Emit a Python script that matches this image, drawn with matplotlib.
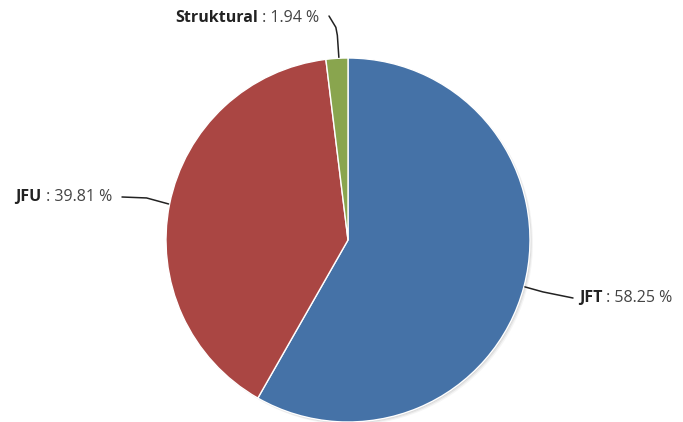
import numpy as np
import matplotlib.pyplot as plt
from matplotlib.patches import Circle

labels = ['JFT', 'JFU', 'Struktural']
values = [58.25, 39.81, 1.94]
colors = ['#4572A7', '#AA4643', '#89A54E']

W, H = 683, 422
cx, cy, R = 348, 182, 182

fig = plt.figure(figsize=(W / 100, H / 100), dpi=100)
ax = fig.add_axes([0, 0, 1, 1])

# light shadow under the pie
for off, a in [(3, 0.04), (2, 0.06), (1, 0.08)]:
    ax.add_patch(Circle((cx + off, cy - off), R, color='black', alpha=a, lw=0, zorder=0))

wedges, _ = ax.pie(values, colors=colors, startangle=90, counterclock=False,
                   center=(cx, cy), radius=R, frame=True,
                   wedgeprops=dict(edgecolor='white', linewidth=1))

ax.set_xlim(0, W)
ax.set_ylim(0, H)
ax.set_aspect('equal')
ax.axis('off')

# label anchor points (text end / start) for each slice
anchors = {'JFT': (579, 124), 'JFU': (112, 225), 'Struktural': (319, 404)}

total = sum(values)
start = 90.0
font = 'Open Sans'
fs = 11.5
for lab, v in zip(labels, values):
    span = v / total * 360
    mid = np.deg2rad(start - span / 2)
    start -= span
    ex, ey = cx + (R + 1) * np.cos(mid), cy + (R + 1) * np.sin(mid)
    tx, ty = anchors[lab]
    right = np.cos(mid) > 0.2
    if lab == 'Struktural':
        pts = [(ex + 2, ey), (ex + 0.5, ey + 22), (ex - 1, ey + 30), (tx + 10, ty + 2)]
    elif right:
        pts = [(ex, ey), (ex + 18, ey - 5), (tx - 6, ty)]
    else:
        pts = [(ex, ey), (ex - 22, ey + 6), (tx + 10, ty)]
    xs, ys = zip(*pts)
    ax.plot(xs, ys, color='#222222', lw=1.1, solid_capstyle='round')
    value_txt = ' : %.2f %%' % v
    if right:
        t1 = ax.text(tx, ty, lab, fontsize=fs, fontweight='bold', family=font,
                     color='#222222', ha='left', va='center')
        ax.annotate(value_txt, xy=(1, 0.5), xycoords=t1, fontsize=fs, family=font,
                    color='#444444', ha='left', va='center')
    else:
        t2 = ax.text(tx, ty, value_txt, fontsize=fs, family=font,
                     color='#444444', ha='right', va='center')
        ax.annotate(lab, xy=(0, 0.5), xycoords=t2, fontsize=fs, fontweight='bold',
                    family=font, color='#222222', ha='right', va='center')

plt.savefig('out.png', dpi=100)
